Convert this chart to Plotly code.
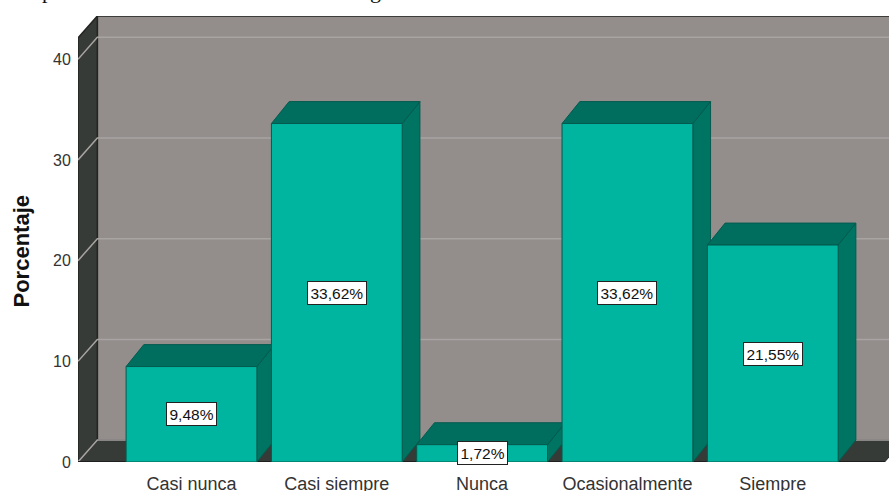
import plotly.graph_objects as go

# values
categories = ["Casi nunca", "Casi siempre", "Nunca", "Ocasionalmente", "Siempre"]
percentages = [9.48, 33.62, 1.72, 33.62, 21.55]
percent_labels = ["9,48%", "33,62%", "1,72%", "33,62%", "21,55%"]
y_ticks = [0, 10, 20, 30, 40]

positions = list(range(len(categories)))

BAR_WIDTH = 0.90
DEPTH_X = 0.122       # 3D offset of the bars' back faces, in x axis units
WALL_DEPTH_X = 0.133  # same for the left wall
DEPTH_Y = 2.18        # in y axis units
X_MIN = -0.781
X_MAX = 4.80
X_FLOOR_END = 4.77
Y_MAX = 44.3

# the caption above the chart is cut by the image edge, so the figure starts above the page
PAGE_OFFSET = 20
PLOT_W = 811

FONT = "Liberation Sans"
WALL = "#373b37"
WALL_EDGE = "#222522"
BACK = "#938e8c"
GRID = "#a8a4a2"
FRONT = "#00b5a0"
TOP = "#006e5f"
SIDE = "#007463"
EDGE = "#055a4e"


def polygon(xs, ys, fill, line_color, line_width=1):
    return go.Scatter(x=xs + xs[:1], y=ys + ys[:1], mode="lines", fill="toself", fillcolor=fill,
                      line=dict(color=line_color, width=line_width), hoverinfo="skip", showlegend=False)


fig = go.Figure()

# back wall, left wall and floor
x_back = X_MIN + WALL_DEPTH_X
fig.add_trace(polygon([x_back, X_MAX + 1, X_MAX + 1, x_back], [DEPTH_Y, DEPTH_Y, Y_MAX, Y_MAX], BACK, WALL_EDGE, 1.5))
fig.add_trace(polygon([X_MIN, x_back, x_back, X_MIN], [0, DEPTH_Y, Y_MAX, Y_MAX - DEPTH_Y], WALL, WALL_EDGE, 1.5))
fig.add_trace(polygon([X_MIN, x_back, X_FLOOR_END + WALL_DEPTH_X, X_FLOOR_END], [0, DEPTH_Y, DEPTH_Y, 0], WALL, WALL_EDGE, 1))

# gridlines run along the back wall and down the left wall
for tick in y_ticks:
    fig.add_trace(go.Scatter(x=[X_MIN, x_back, X_MAX], y=[tick, tick + DEPTH_Y, tick + DEPTH_Y], mode="lines",
                             line=dict(color=GRID, width=1.5), hoverinfo="skip", showlegend=False))

# floor front edge
fig.add_trace(go.Scatter(x=[X_MIN, X_FLOOR_END], y=[0, 0], mode="lines", line=dict(color="#1e1f1e", width=2),
                         hoverinfo="skip", showlegend=False))

# top and side faces of each bar, left to right
half = BAR_WIDTH / 2
for pos, value in zip(positions, percentages):
    left, right = pos - half, pos + half
    fig.add_trace(polygon([right, right + DEPTH_X, right + DEPTH_X, right],
                          [0, DEPTH_Y, value + DEPTH_Y, value], SIDE, EDGE))
    fig.add_trace(polygon([left, left + DEPTH_X, right + DEPTH_X, right],
                          [value, value + DEPTH_Y, value + DEPTH_Y, value], TOP, EDGE))

# front faces sit on an overlaid axis pair so they cover the side of the bar to their left
fig.add_trace(go.Bar(x=positions, y=percentages, width=BAR_WIDTH, xaxis="x2", yaxis="y2",
                     marker=dict(color=FRONT, line=dict(color=EDGE, width=1)),
                     hoverinfo="skip", showlegend=False))

# percentage boxes in the middle of each bar
for pos, value, label in zip(positions, percentages, percent_labels):
    fig.add_annotation(x=pos, y=value / 2, xref="x2", yref="y2", text=label, showarrow=False,
                       font=dict(family=FONT, size=15.5, color="#111111"), bgcolor="white",
                       bordercolor="#222222", borderwidth=1, borderpad=2.5)

# only the descenders of the caption are left in the picture
for letter, px in [("p", 47), ("g", 375)]:
    fig.add_annotation(x=(px - 78) / PLOT_W, y=1.0, xref="paper", yref="paper", xanchor="center", yanchor="bottom",
                       yshift=11, text=letter, showarrow=False,
                       font=dict(family="Liberation Serif", size=22, color="#111111"))

# axis title, centred on the picture rather than on the plot area
fig.add_annotation(x=(21 - 78) / PLOT_W, y=0.472, xref="paper", yref="paper", xanchor="center",
                   yanchor="middle", text="<b>Porcentaje</b>", textangle=-90, showarrow=False,
                   font=dict(family=FONT, size=22, color="#111111"))

fig.update_layout(
    width=889,
    height=491 + PAGE_OFFSET,
    margin=dict(l=78, r=0, t=16 + PAGE_OFFSET, b=28.5),
    paper_bgcolor="white",
    plot_bgcolor="white",
    autosize=False,
    xaxis=dict(range=[X_MIN, X_MAX], tickmode="array", tickvals=positions, ticktext=categories, automargin=False,
               ticks="outside", ticklen=5, tickcolor="rgba(0,0,0,0)", showgrid=False, zeroline=False, showline=False,
               tickfont=dict(family=FONT, size=18, color="#333333")),
    yaxis=dict(range=[0, Y_MAX], tickmode="array", tickvals=y_ticks, automargin=False,
               ticks="outside", ticklen=3, tickcolor="rgba(0,0,0,0)", showgrid=False, zeroline=False, showline=False,
               tickfont=dict(family=FONT, size=16, color="#333333")),
    xaxis2=dict(range=[X_MIN, X_MAX], overlaying="x", visible=False),
    yaxis2=dict(range=[0, Y_MAX], overlaying="y", visible=False),
)

fig.write_html("out.html", config=dict(displayModeBar=False),
               post_script=f"document.body.style.margin='-{PAGE_OFFSET}px 0 0 0';"
                           "document.documentElement.style.overflow='hidden';")
